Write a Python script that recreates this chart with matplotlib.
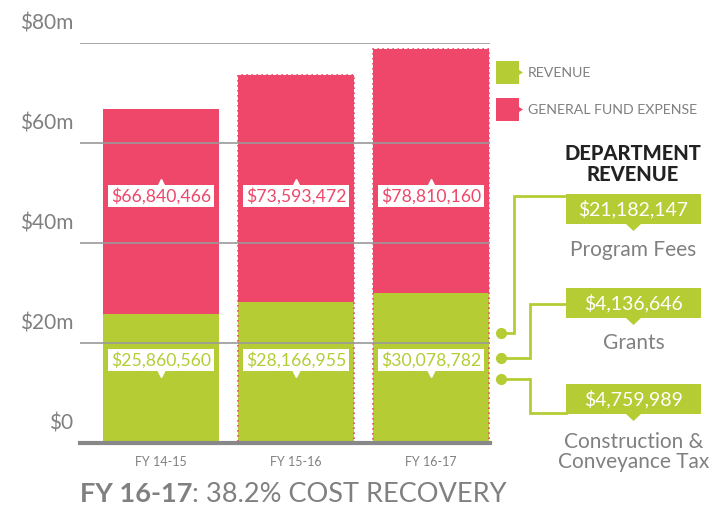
import matplotlib.pyplot as plt
import matplotlib.transforms as mtransforms
from matplotlib.patches import Rectangle, Polygon
import numpy as np

plt.rcParams['font.family'] = ['Lato', 'DejaVu Sans']

years = ["FY 14-15", "FY 15-16", "FY 16-17"]
revenue = np.array([25860560, 28166955, 30078782])
expense = np.array([66840466, 73593472, 78810160])

y_ticks = [0, 20, 40, 60, 80]
y_labels = ["$0", "$20m", "$40m", "$60m", "$80m"]

dept_names = ["Program Fees", "Grants", "Construction &\nConveyance Tax"]
dept_values = [21182147, 4136646, 4759989]

green = "#B5CC34"
pink = "#EF476A"
gray = "#808080"

W, H = 726, 508
fig = plt.figure(figsize=(W / 100, H / 100), dpi=100)
ax = fig.add_axes([80 / W, (H - 443) / H, 410 / W, 400 / H])

x = np.arange(len(years))
rev_m = revenue / 1e6
exp_m = expense / 1e6
ax.bar(x, rev_m, width=0.86, color=green, zorder=1)
ax.bar(x, exp_m - rev_m, bottom=rev_m, width=0.86, color=pink, zorder=1)
# dotted outline seen on the later bars
ax.bar(x[1:], exp_m[1:], width=0.86, fill=False, edgecolor=pink,
       linestyle=(0, (1, 2)), linewidth=1.2, zorder=2)

ax.set_xlim(-0.6, 2.437)
ax.set_ylim(0, 80)
for v in y_ticks[1:]:
    ax.axhline(v, color="#9a9a9a", lw=1.2, zorder=3)
ax.axhline(0, color="#888888", lw=3, zorder=4, clip_on=False)

for s in ax.spines.values():
    s.set_visible(False)
ax.set_yticks(y_ticks, y_labels, fontsize=15, color=gray)
ax.set_xticks(x, years, fontsize=9, color=gray)
ax.tick_params(length=0)
ax.tick_params(axis="y", pad=5)
ax.tick_params(axis="x", pad=9)
shift = mtransforms.ScaledTranslation(0, 22 / 100, fig.dpi_scale_trans)
for lab in ax.get_yticklabels():
    lab.set_transform(lab.get_transform() + shift)

# value labels on bars
up = mtransforms.offset_copy(ax.transData, fig, x=0, y=13, units="dots")
down = mtransforms.offset_copy(ax.transData, fig, x=0, y=-13, units="dots")
for i in range(len(years)):
    ax.text(x[i], 49.4, f"${expense[i]:,}", ha="center", va="center", fontsize=12.7,
            color=pink, zorder=6,
            bbox=dict(boxstyle="square,pad=0.15", fc="white", ec="none"))
    ax.plot(x[i], 49.4, marker="^", ms=6, color="white", transform=up, zorder=5)
    ax.text(x[i], 16.6, f"${revenue[i]:,}", ha="center", va="center", fontsize=12.7,
            color=green, zorder=6,
            bbox=dict(boxstyle="square,pad=0.15", fc="white", ec="none"))
    ax.plot(x[i], 16.6, marker="v", ms=6, color="white", transform=down, zorder=5)

# overlay in pixel coordinates for legend and side panel
ov = fig.add_axes([0, 0, 1, 1], facecolor="none")
ov.set_xlim(0, W)
ov.set_ylim(H, 0)
ov.axis("off")

for y0, col, name in [(61, green, "REVENUE"), (98, pink, "GENERAL FUND EXPENSE")]:
    ov.add_patch(Polygon([(496, y0), (519, y0), (519, y0 + 9), (523, y0 + 11.5),
                          (519, y0 + 14), (519, y0 + 23), (496, y0 + 23)],
                         closed=True, fc=col, ec="none"))
    ov.text(528, y0 + 12, name, ha="left", va="center", fontsize=10.2, color=gray)

ov.text(633, 164, "DEPARTMENT\nREVENUE", ha="center", va="center", fontsize=14.5,
        fontweight="black", color="#222222", linespacing=1.1)

box_tops = [194, 288, 384]
name_ys = [250, 343, 452]
for top, val, name, ny in zip(box_tops, dept_values, dept_names, name_ys):
    ov.add_patch(Rectangle((566, top), 135, 30, fc=green, ec="none"))
    ov.add_patch(Polygon([(626, top + 30), (641, top + 30), (633.5, top + 37)],
                         closed=True, fc=green, ec="none"))
    ov.text(633.5, top + 15.5, f"${val:,}", ha="center", va="center", fontsize=14,
            color="white")
    ov.text(633.5, ny, name, ha="center", va="center", fontsize=15, color=gray,
            linespacing=1.0)

# connector lines
dot_y = [333, 358, 379]
elbow_x = [514, 530, 530]
end_y = [196, 304, 413]
for dy, ex, ey in zip(dot_y, elbow_x, end_y):
    ov.plot([501, ex, ex, 566], [dy, dy, ey, ey], color=green, lw=2,
            solid_joinstyle="miter")
    ov.plot(501, dy, "o", ms=7, color=green)

# bottom title
t1 = fig.text(80 / W, 1 - 494 / H, "FY 16-17", fontsize=19.5, fontweight="bold",
              color=gray, ha="left", va="center")
fig.canvas.draw()
bb = t1.get_window_extent()
fig.text(bb.x1 / W, 1 - 494 / H, ": 38.2% COST RECOVERY", fontsize=19.5,
         color=gray, ha="left", va="center")

fig.savefig("out.png", dpi=100)
